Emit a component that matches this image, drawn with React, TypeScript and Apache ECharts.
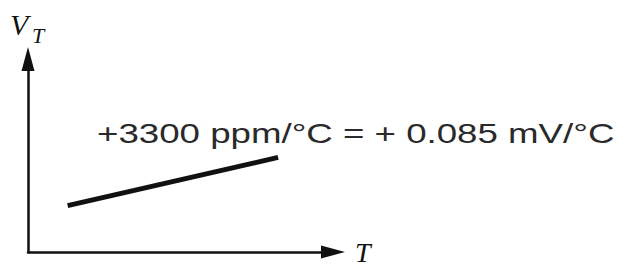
import React, { useEffect, useRef } from "react";
import * as echarts from "echarts";

const temperature = [1.3, 8.2];
const voltage = [2.4, 4.9];
const annotation = "+3300 ppm/°C = + 0.085 mV/°C";
const xName = "T";
const yName = "V";
const ySub = "T";

export default function App() {
  const ref = useRef<HTMLDivElement>(null);
  useEffect(() => {
    document.body.style.margin = "0";
    const chart = echarts.init(ref.current!, null, { renderer: "svg" });
    const axisLine = {
      show: true,
      onZero: false,
      symbol: ["none", "triangle"],
      symbolSize: [13, 24],
      lineStyle: { color: "#111", width: 2.5 },
    };
    chart.setOption({
      animation: false,
      backgroundColor: "#fff",
      grid: { left: 28, right: 290, top: 59, bottom: 13 },
      xAxis: {
        type: "value",
        min: 0,
        max: 10,
        name: xName,
        nameLocation: "end",
        nameGap: 22,
        nameTextStyle: {
          fontFamily: "Liberation Serif",
          fontStyle: "italic",
          fontSize: 28,
          color: "#111",
        },
        axisLine,
        axisTick: { show: false },
        axisLabel: { show: false },
        splitLine: { show: false },
      },
      yAxis: {
        type: "value",
        min: 0,
        max: 10,
        axisLine,
        axisTick: { show: false },
        axisLabel: { show: false },
        splitLine: { show: false },
      },
      series: [
        {
          type: "line",
          data: temperature.map((t, i) => [t, voltage[i]]),
          showSymbol: false,
          silent: true,
          lineStyle: { color: "#111", width: 5, cap: "butt" },
        },
      ],
      graphic: [
        {
          type: "text",
          x: 97,
          y: 133,
          scaleX: 1.31,
          style: {
            text: annotation,
            fontFamily: "Liberation Sans",
            fontSize: 28,
            fill: "#2a2a2a",
            align: "left",
            verticalAlign: "middle",
          },
        },
        {
          type: "text",
          x: 10,
          y: 24,
          style: {
            text: yName,
            fontFamily: "Liberation Serif",
            fontStyle: "italic",
            fontSize: 30,
            fill: "#111",
            align: "left",
            verticalAlign: "middle",
          },
        },
        {
          type: "text",
          x: 32,
          y: 35,
          style: {
            text: ySub,
            fontFamily: "Liberation Serif",
            fontStyle: "italic",
            fontSize: 22,
            fill: "#111",
            align: "left",
            verticalAlign: "middle",
          },
        },
      ],
    });
    return () => chart.dispose();
  }, []);
  return <div ref={ref} style={{ width: 623, height: 266 }} />;
}
